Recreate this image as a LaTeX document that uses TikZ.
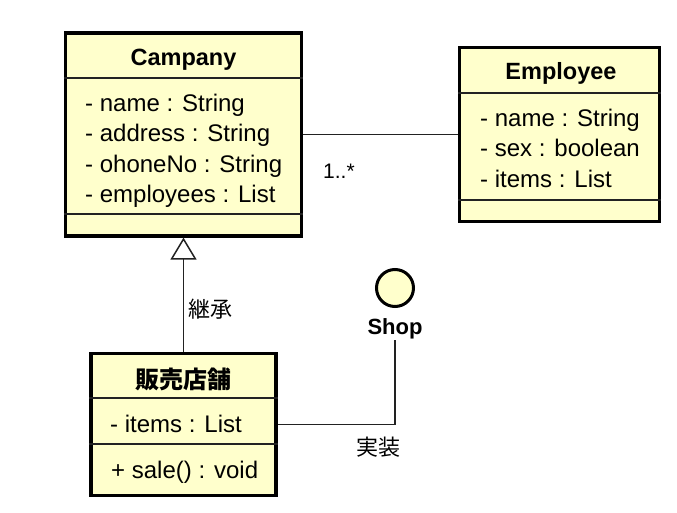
\documentclass[tikz,border=0pt]{standalone}
\usepackage{fontspec}
\setmainfont{Liberation Sans}
\newfontfamily\jpfont{Noto Sans CJK JP}
\usepackage{tikz}
\usetikzlibrary{arrows.meta, positioning}
\definecolor{uml_fill}{HTML}{FFFFCC}
\definecolor{uml_line}{HTML}{222222}

\begin{document}
\begin{tikzpicture}[
        x=1pt, y=-1pt,
        classbox/.style={rectangle, draw=black, fill=uml_fill, line width=3.2pt, inner sep=0pt},
        classname/.style={font=\fontsize{23.5}{27}\selectfont\bfseries, inner sep=0pt, anchor=base},
        attr/.style={font=\fontsize{24}{28}\selectfont, inner sep=0pt, anchor=base west},
        lbl/.style={font=\fontsize{21}{25}\selectfont, inner sep=0pt, anchor=base},
        divider/.style={line width=1.5pt, uml_line},
        conn/.style={line width=1.5pt, uml_line},
        inherit/.style={conn, -{Triangle[open, length=22pt, width=26pt]}},
    ]
        \useasboundingbox (0,0) rectangle (677,513);

        % Campany
        \node[classbox, minimum width=236pt, minimum height=203pt] (campany) at (183.5,134.5) {};
        \node[classname] (campany_name) at (183.5,66) {Campany};
        \node[attr] (campany_a1) at (85,112) {- name : String};
        \node[attr] (campany_a2) at (85,142) {- address : String};
        \node[attr] (campany_a3) at (85,173) {- ohoneNo : String};
        \node[attr] (campany_a4) at (85,203) {- employees : List};
        \draw[divider] (campany.west |- 0,78) -- (campany.east |- 0,78);
        \draw[divider] (campany.west |- 0,214) -- (campany.east |- 0,214);

        % Employee
        \node[classbox, minimum width=200pt, minimum height=174pt] (employee) at (559.5,134.5) {};
        \node[classname] (employee_name) at (561,80) {Employee};
        \node[attr] (employee_a1) at (480,127) {- name : String};
        \node[attr] (employee_a2) at (480,157) {- sex : boolean};
        \node[attr] (employee_a3) at (480,188) {- items : List};
        \draw[divider] (employee.west |- 0,93) -- (employee.east |- 0,93);
        \draw[divider] (employee.west |- 0,200) -- (employee.east |- 0,200);

        % 販売店舗
        \node[classbox, minimum width=185pt, minimum height=142pt] (store) at (183.5,424.5) {};
        \node[classname, font=\fontsize{24}{28}\selectfont\jpfont\bfseries] (store_name) at (183.5,388) {販売店舗};
        \node[attr] (store_a1) at (110,432) {- items : List};
        \node[attr] (store_op1) at (111,478) {+ sale() : void};
        \draw[divider] (store.west |- 0,398) -- (store.east |- 0,398);
        \draw[divider] (store.west |- 0,444) -- (store.east |- 0,444);

        % Shop
        \node[circle, draw=black, fill=uml_fill, line width=3pt, minimum size=37pt, inner sep=0pt] (shop) at (395,288) {};
        \node[classname, font=\fontsize{22}{26}\selectfont\bfseries] (shop_name) at (395,334) {Shop};
        \coordinate (shop_end) at (395,340);

        % Connections
        \draw[conn] (campany) -- (employee);
        \node[lbl, anchor=base west] (mult) at (323,179) {1..*};
        \draw[inherit] (store) -- (campany);
        \node[lbl, font=\fontsize{22}{26}\selectfont\jpfont] (inherit_lbl) at (210,317) {継承};
        \draw[conn] (shop_end) |- (store.east);
        \node[lbl, font=\fontsize{22}{26}\selectfont\jpfont] (impl_lbl) at (378,455) {実装};
    \end{tikzpicture}
\end{document}
